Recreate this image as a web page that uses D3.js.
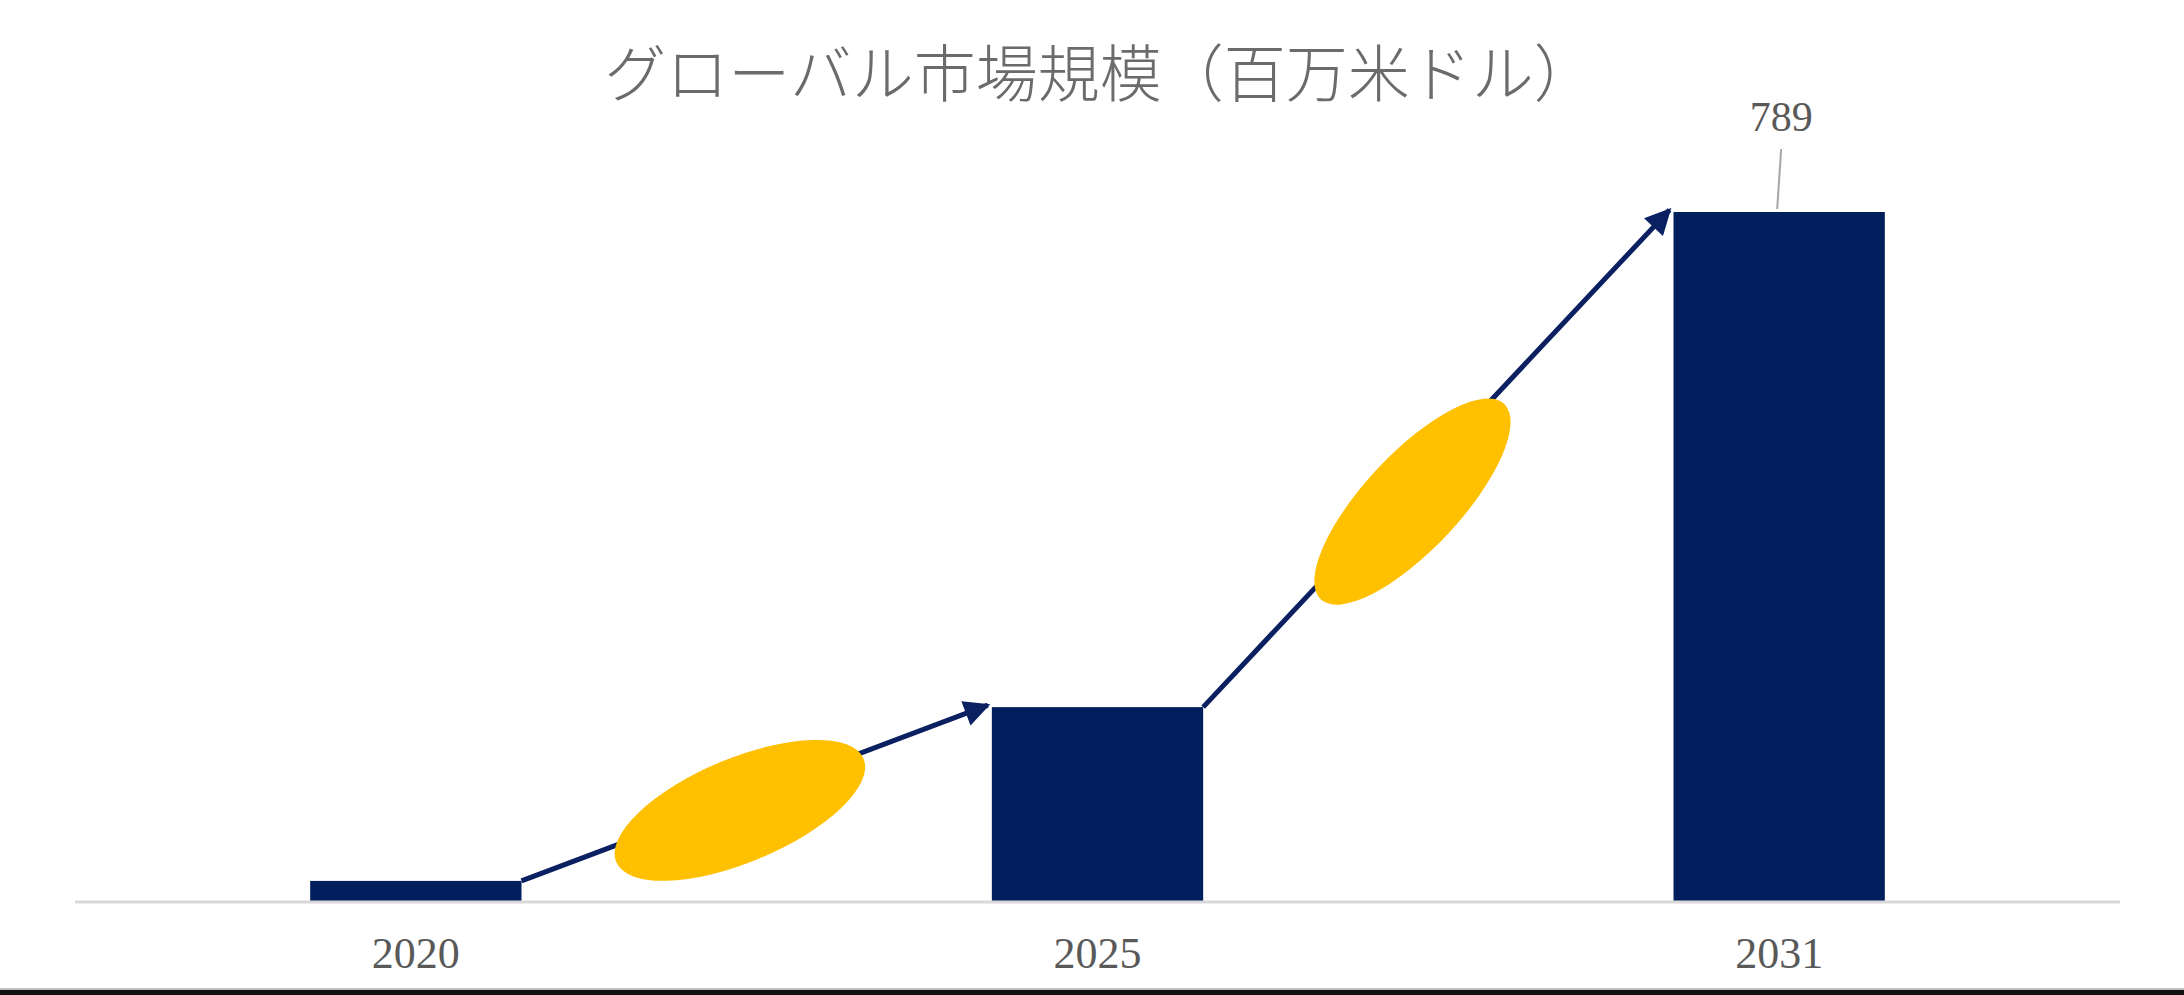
<!DOCTYPE html>
<meta charset="utf-8">
<style>
  body {
    margin: 0;
    background: #fff;
  }

  .title {
    font-family: 'Noto Sans CJK JP', sans-serif;
    font-size: 62px;
    font-weight: 300;
    fill: #6b6b6b;
  }

  .axis text {
    font-family: 'Liberation Serif', serif;
    font-size: 44px;
    fill: #595959;
  }

  .axis path,
  .axis line {
    fill: none;
  }

  .valueLabel {
    font-family: 'Liberation Serif', serif;
    font-size: 42px;
    fill: #595959;
  }
</style>

<body>
  <div id="chart"></div>
  <script src="https://d3js.org/d3.v7.min.js"></script>

  <script>
    // data
    var years = ["2020", "2025", "2031"];
    var values = [23, 222, 789];
    var labelled = ["2031"]; // only the last bar carries a value label

    var width = 2184,
      height = 995;
    var margin = {
      top: 212,
      right: 64,
      bottom: 94,
      left: 75
    };
    var baseline = height - margin.bottom;

    var svg = d3.select("#chart")
      .append("svg")
      .attr("width", width)
      .attr("height", height);

    svg.append("rect")
      .attr("width", width)
      .attr("height", height)
      .style("fill", "#fff");

    // scales
    var x = d3.scaleBand()
      .domain(years)
      .range([margin.left, width - margin.right])
      .paddingInner(0.69)
      .paddingOuter(0.345);

    var y = d3.scaleLinear()
      .domain([0, d3.max(values)])
      .range([baseline, margin.top]);

    var data = years.map(function(d, i) {
      return {
        year: d,
        value: values[i]
      };
    });

    // title
    svg.append("text")
      .attr("class", "title")
      .attr("x", 1100)
      .attr("y", 70)
      .attr("text-anchor", "middle")
      .attr("dominant-baseline", "central")
      .text("グローバル市場規模（百万米ドル）");

    // bars
    svg.selectAll(".bar")
      .data(data)
      .enter()
      .append("rect")
      .attr("class", "bar")
      .attr("x", function(d) { return x(d.year); })
      .attr("y", function(d) { return y(d.value); })
      .attr("width", x.bandwidth())
      .attr("height", function(d) { return baseline - y(d.value); })
      .style("fill", "#001f5c");

    // x axis line + labels
    svg.append("line")
      .attr("x1", margin.left)
      .attr("x2", width - margin.right)
      .attr("y1", baseline + 1)
      .attr("y2", baseline + 1)
      .style("stroke", "#d9d9d9")
      .style("stroke-width", 3);

    svg.append("g")
      .attr("class", "axis")
      .attr("transform", "translate(0," + (baseline + 52) + ")")
      .call(d3.axisBottom(x).tickSize(0).tickPadding(0))
      .call(function(g) { g.select(".domain").remove(); })
      .selectAll("text")
      .attr("dy", "0.35em");

    // arrowhead marker
    svg.append("defs").append("marker")
      .attr("id", "head")
      .attr("viewBox", "0 0 10 10")
      .attr("refX", 9)
      .attr("refY", 5)
      .attr("markerUnits", "userSpaceOnUse")
      .attr("markerWidth", 30)
      .attr("markerHeight", 26)
      .attr("orient", "auto")
      .append("path")
      .attr("d", "M0,0 L10,5 L0,10 z")
      .style("fill", "#0a2060");

    // growth arrows between bar tops, with an oval on each
    var pairs = d3.pairs(data);
    var ovals = [{
      rx: 134,
      ry: 52,
      tilt: -2,
      t: 0.46,
      off: 11
    }, {
      rx: 134,
      ry: 48,
      tilt: 0,
      t: 0.43,
      off: 12
    }];

    pairs.forEach(function(p, i) {
      var x1 = x(p[0].year) + x.bandwidth(),
        y1 = y(p[0].value),
        x2 = x(p[1].year) - 4,
        y2 = y(p[1].value) - 2;

      svg.append("line")
        .attr("x1", x1)
        .attr("y1", y1)
        .attr("x2", x2)
        .attr("y2", y2)
        .style("stroke", "#0a2060")
        .style("stroke-width", 5)
        .attr("marker-end", "url(#head)");

      var o = ovals[i];
      var ang = Math.atan2(y2 - y1, x2 - x1);
      var cx = x1 + (x2 - x1) * o.t - Math.sin(ang) * o.off,
        cy = y1 + (y2 - y1) * o.t + Math.cos(ang) * o.off;
      svg.append("ellipse")
        .attr("cx", 0)
        .attr("cy", 0)
        .attr("rx", o.rx)
        .attr("ry", o.ry)
        .attr("transform", "translate(" + cx + "," + cy + ") rotate(" + (ang * 180 / Math.PI + o.tilt) + ")")
        .style("fill", "#ffc000");
    });

    // value label with leader line
    data.filter(function(d) { return labelled.indexOf(d.year) > -1; })
      .forEach(function(d) {
        var cx = x(d.year) + x.bandwidth() / 2;
        svg.append("line")
          .attr("x1", cx + 2)
          .attr("y1", y(d.value) - 63)
          .attr("x2", cx - 2)
          .attr("y2", y(d.value) - 3)
          .style("stroke", "#a6a6a6")
          .style("stroke-width", 2);
        svg.append("text")
          .attr("class", "valueLabel")
          .attr("x", cx + 2)
          .attr("y", y(d.value) - 95)
          .attr("text-anchor", "middle")
          .attr("dominant-baseline", "central")
          .text(d.value);
      });

    // dark strip along the bottom edge
    svg.append("rect")
      .attr("x", 0)
      .attr("y", 988)
      .attr("width", width)
      .attr("height", 2)
      .style("fill", "#bfbfbf");
    svg.append("rect")
      .attr("x", 0)
      .attr("y", 990)
      .attr("width", width)
      .attr("height", 5)
      .style("fill", "#111");
  </script>
</body>
